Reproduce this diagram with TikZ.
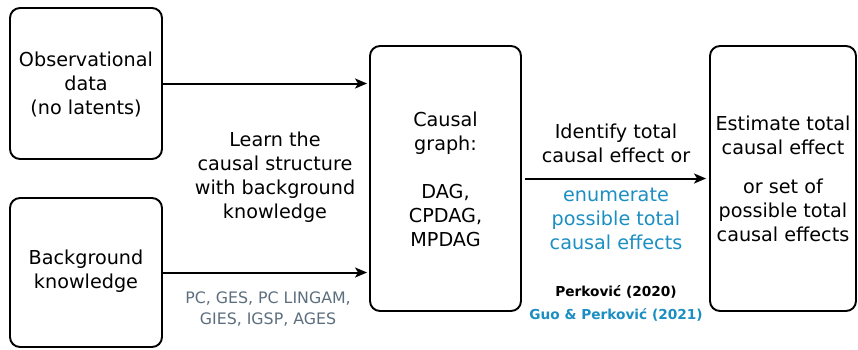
\documentclass[tikz,border=0pt]{standalone}
\usepackage{fontspec}
\setmainfont{DejaVu Sans}
\usetikzlibrary{arrows.meta}
\definecolor{linkblue}{HTML}{1B8EC2}
\definecolor{methgray}{HTML}{5C6E7E}
\begin{document}
\begin{tikzpicture}[x=1pt,y=-1pt,
  box/.style={draw, line width=1.9pt, rounded corners=10pt, inner sep=0pt},
  txt/.style={align=center, font=\fontsize{19.2}{24}\selectfont, inner sep=0pt},
  small/.style={align=center, font=\fontsize{15.8}{21}\selectfont, inner sep=0pt},
  conn/.style={line width=2pt, -{Stealth[length=12pt,width=10pt,inset=3pt]}}]
\useasboundingbox (0,0) rectangle (858,349);
% input boxes
\node[box, minimum width=152pt, minimum height=151pt] (obs) at (86,83.5) {};
\node[txt] at (86,84) {Observational\\data\\(no latents)};
\node[box, minimum width=152pt, minimum height=149pt] (bk) at (86,272.5) {};
\node[txt] at (86,271) {Background\\knowledge};
% causal graph box
\node[box, minimum width=151pt, minimum height=265pt] (cg) at (445.5,178.5) {};
\node[txt] at (445.5,179) {Causal\\graph:\\[24pt]DAG,\\CPDAG,\\MPDAG};
% estimation box
\node[box, minimum width=146pt, minimum height=265pt] (est) at (783,178.5) {};
\node[txt] (esta) at (783,135.5) {Estimate total\\causal effect};
\node[txt] (estb) at (783,210) {or set of\\possible total\\causal effects};
% connectors
\coordinate (cgin1) at ([xshift=-2pt]cg.west |- obs.east);
\coordinate (cgin2) at ([xshift=-2pt]cg.west |- bk.east);
\draw[conn] (obs.east) -- (cgin1);
\draw[conn] (bk.east) -- (cgin2);
\coordinate (a3s) at ([xshift=3pt]cg.east);
\coordinate (a3e) at ([xshift=-3pt]est.west);
\draw[conn] (a3s) -- (a3e);
% labels
\node[txt] (learn) at (275,177.5) {Learn the\\causal structure\\with background\\knowledge};
\node[small, text=methgray] (meth) at (268,309.5) {PC, GES, PC LINGAM,\\GIES, IGSP, AGES};
\node[txt] (ident) at (616,143) {Identify total\\causal effect or};
\node[txt, text=linkblue] (enum) at (616,219) {enumerate\\possible total\\causal effects};
\node[small, font=\fontsize{13.7}{23}\selectfont\bfseries] (ref1) at (616,292) {Perković (2020)};
\node[small, font=\fontsize{13.7}{23}\selectfont\bfseries, text=linkblue] (ref2) at (616,315) {Guo \& Perković (2021)};
\end{tikzpicture}
\end{document}
